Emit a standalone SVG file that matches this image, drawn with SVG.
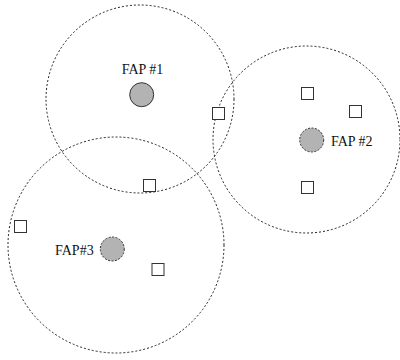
<svg xmlns="http://www.w3.org/2000/svg" width="400" height="360" viewBox="0 0 400 360">
<style>
.cov{fill:none;stroke:#222;stroke-width:1;stroke-dasharray:2,2}
.fap{fill:#b3b3b3;stroke:#333;stroke-width:1}
.fapd{fill:#b3b3b3;stroke:#333;stroke-width:1;stroke-dasharray:2,1.5}
.ue{fill:#fff;stroke:#333;stroke-width:1}
.lbl{font-family:"Liberation Serif","Times New Roman",serif;font-size:14px;fill:#111}
</style>
<rect width="400" height="360" fill="#fff"/>
<g id="coverage">
<circle class="cov" cx="140" cy="99" r="94"/>
<circle class="cov" cx="306.5" cy="139.5" r="93.5"/>
<circle class="cov" cx="116" cy="245" r="108"/>
</g>
<g id="fap1">
<circle class="fap" cx="141.7" cy="94.7" r="12"/>
<text class="lbl" x="142.5" y="74" text-anchor="middle">FAP #1</text>
</g>
<g id="fap2">
<circle class="fapd" cx="311.7" cy="140" r="12"/>
<text class="lbl" x="331" y="145.5">FAP #2</text>
</g>
<g id="fap3">
<circle class="fapd" cx="112.3" cy="249" r="12"/>
<text class="lbl" x="55" y="255">FAP#3</text>
</g>
<g id="users">
<rect class="ue" x="212.5" y="107.5" width="12" height="12"/>
<rect class="ue" x="301.5" y="87.5" width="12" height="12"/>
<rect class="ue" x="349.5" y="105.5" width="12" height="12"/>
<rect class="ue" x="301.5" y="181.5" width="12" height="12"/>
<rect class="ue" x="143.5" y="179.5" width="12" height="12"/>
<rect class="ue" x="14.5" y="220.5" width="12" height="12"/>
<rect class="ue" x="152" y="263.5" width="12" height="12"/>
</g>
</svg>
